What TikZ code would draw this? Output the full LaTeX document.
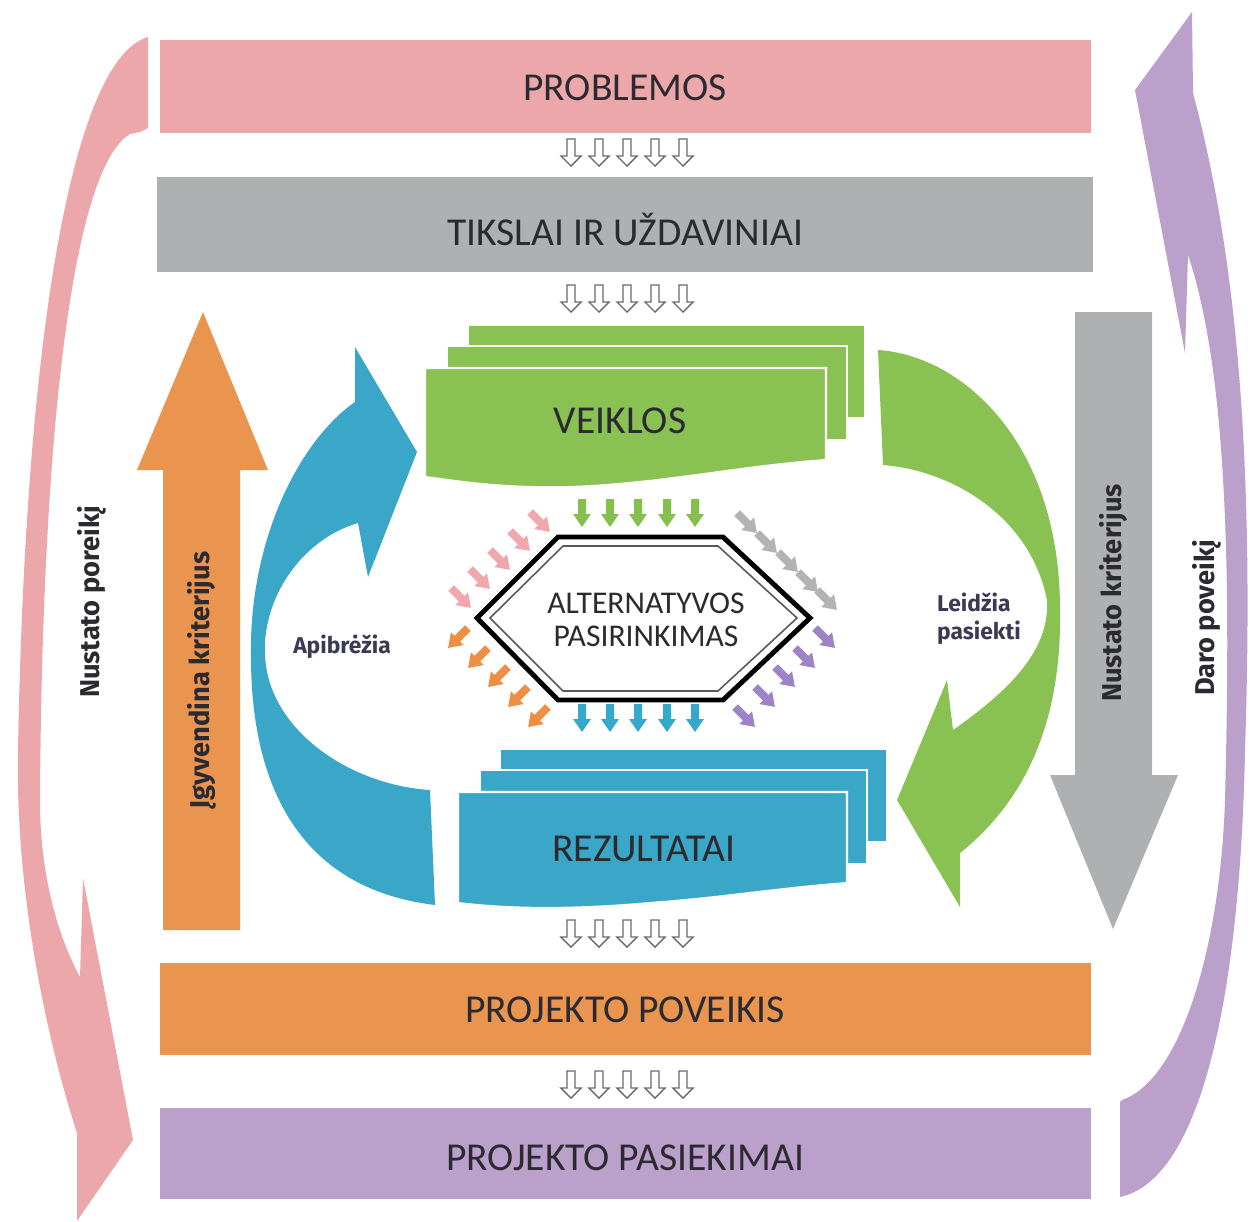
\documentclass[tikz,border=0pt]{standalone}
\usepackage{fontspec}
\setmainfont{Carlito}
\newfontfamily\labfont{Fira Sans}
\definecolor{pinkc}{HTML}{ECA7AA}
\definecolor{grayc}{HTML}{AEB0B2}
\definecolor{orangec}{HTML}{E9954F}
\definecolor{purplec}{HTML}{BAA0CB}
\definecolor{greenc}{HTML}{8AC153}
\definecolor{bluec}{HTML}{3AA7C9}
\definecolor{txt}{HTML}{2A2A30}
\definecolor{navy}{HTML}{3A3A55}
\definecolor{hollc}{HTML}{6A6A6A}
\definecolor{spink}{HTML}{F0A8AC}
\definecolor{sgray}{HTML}{B3B3B3}
\definecolor{sorange}{HTML}{EE8F45}
\definecolor{spurple}{HTML}{9E84C6}
\definecolor{sgreen}{HTML}{86C04C}
\definecolor{sblue}{HTML}{35A8CE}
\tikzset{
  bartext/.style={font=\fontsize{22.5}{26}\selectfont, text=txt, inner sep=0pt},
  sidelab/.style={font=\labfont\bfseries\fontsize{15.5}{18}\selectfont, text=txt, rotate=90, inner sep=0pt},
  arclab/.style={font=\labfont\bfseries\fontsize{13}{16}\selectfont, text=navy, inner sep=0pt},
  holarr/.pic={\draw[hollc, line width=0.8pt, fill=white, line join=miter]
     (-4,0) -- (-4,17) -- (-10,17) -- (0,27) -- (10,17) -- (4,17) -- (4,0) -- cycle;},
  sarr/.pic={\fill (-4,-14) -- (4,-14) -- (4,1) -- (9,1) -- (0,14) -- (-9,1) -- (-4,1) -- cycle;},
  layer/.style={draw=white, line width=1.2pt}
}
\begin{document}
\begin{tikzpicture}[x=0.02cm,y=-0.02cm]
\fill[white] (0,0) rectangle (1250,1221);
\useasboundingbox (0,0) rectangle (1250,1221);

% --- side arcs
\fill[pinkc] (148,37) -- (148,128) -- (140,132) -- (130,134)
  .. controls (70,170) and (42,450) .. (40,800)
  .. controls (40,880) and (60,940) .. (80,977)
  -- (83,878) -- (133,1140) -- (77,1221) -- (77,1133)
  .. controls (50,1050) and (15,900) .. (18,750)
  .. controls (25,350) and (70,60) .. (148,37) -- cycle;
\fill[purplec] (1192,12) -- (1193,93)
  .. controls (1235,250) and (1255,450) .. (1245,750)
  .. controls (1240,1000) and (1200,1180) .. (1120,1197)
  -- (1120,1102) -- (1122,1100)
  .. controls (1180,1080) and (1220,950) .. (1225,800)
  .. controls (1230,600) and (1230,380) .. (1188,255)
  -- (1185,353) -- (1135,90) -- cycle;

% --- bars
\fill[pinkc] (160,40) rectangle (1091,133);
\node[bartext] (problemos) at (625,88) {PROBLEMOS};
\fill[grayc] (157,177) rectangle (1093,272);
\node[bartext] (tikslai) at (625,229) {TIKSLAI IR UŽDAVINIAI};
\fill[orangec] (160,963) rectangle (1091,1055);
\node[bartext] (poveikis) at (625,1010) {PROJEKTO POVEIKIS};
\fill[purplec] (160,1108) rectangle (1091,1199);
\node[bartext] (pasiekimai) at (625,1158) {PROJEKTO PASIEKIMAI};

% --- hollow arrows
\foreach \y in {139,285,920,1071}
  \foreach \x in {571,599,627,655,683}
    \pic at (\x,\y) {holarr};

% --- vertical arrows
\fill[orangec] (163,930) -- (163,470) -- (137,470) -- (203,312) -- (268,470) -- (240,470) -- (240,930) -- cycle;
\node[sidelab] (igyv) at (202,680) {Įgyvendina kriterijus};
\fill[grayc] (1075,312) -- (1075,775) -- (1050,775) -- (1113,929) -- (1178,775) -- (1152,775) -- (1152,312) -- cycle;
\node[sidelab] (nustk) at (1113,593) {Nustato kriterijus};
\node[sidelab] (nustp) at (92,602) {Nustato poreikį};
\node[sidelab] (daro) at (1207,618) {Daro poveikį};

% --- veiklos stack
\fill[greenc, layer] (468,325) rectangle (865,418);
\fill[greenc, layer] (447,346) rectangle (847,440);
\fill[greenc, layer] (425,368) -- (826,368) -- (826,460)
  .. controls (740,466) and (660,484) .. (570,487)
  .. controls (500,489) and (450,480) .. (425,477) -- cycle;
\node[bartext] (veiklos) at (620,421) {VEIKLOS};

% --- rezultatai stack
\fill[bluec, layer] (500,749) rectangle (887,842);
\fill[bluec, layer] (480,770) rectangle (867,864);
\fill[bluec, layer] (458,792) -- (847,792) -- (847,883)
  .. controls (780,888) and (720,898) .. (650,903)
  .. controls (560,911) and (500,908) .. (458,903) -- cycle;
\node[bartext] (rezultatai) at (644,849) {REZULTATAI};

% --- curved arrows
\fill[bluec] (435,905) .. controls (310,890) and (252,800) .. (251,660)
  .. controls (248,540) and (300,440) .. (355,402)
  -- (355,347) -- (417,452) -- (368,577) -- (358,523)
  .. controls (300,540) and (262,600) .. (265,655)
  .. controls (268,730) and (350,785) .. (430,790) -- cycle;
\node[arclab] (apib) at (342,647) {Apibrėžia};
\fill[greenc] (878,350) .. controls (960,355) and (1060,440) .. (1060,610)
  .. controls (1062,730) and (1020,805) .. (960,853)
  -- (960,907) -- (897,800) -- (947,680) -- (953,730)
  .. controls (1010,690) and (1050,650) .. (1047,600)
  .. controls (1030,515) and (950,470) .. (883,465) -- cycle;
\node[arclab, align=left] (leid) at (979,619) {Leidžia\\pasiekti};

% --- hexagon
\draw[line width=2.8pt, fill=white, line join=miter] (477,618) -- (558,537) -- (723,537) -- (810,618) -- (723,700) -- (558,700) -- cycle;
\draw[line width=0.9pt, gray!70!black] (490,618) -- (563,546) -- (718,546) -- (797,618) -- (718,691) -- (563,691) -- cycle;
\node[font=\fontsize{18}{19}\selectfont, text=txt, align=center, inner sep=0pt] (alt) at (646,620) {ALTERNATYVOS\\PASIRINKIMAS};

% --- small arrows
\foreach \x in {582,610,638,667,695} {
  \pic[sgreen] at (\x,513) {sarr};
  \pic[sblue] at (\x,718) {sarr};
}
\foreach \x/\y in {540/522,520/541,500/560,480/579,461/598}
  \pic[spink, rotate=45] at (\x,\y) {sarr};
\foreach \x/\y in {747/523,767/543,788/562,808/582,827/600}
  \pic[sgray, rotate=45] at (\x,\y) {sarr};
\foreach \x/\y in {458/638,478/658,498/677,518/697,538/717}
  \pic[sorange, rotate=-45] at (\x,\y) {sarr};
\foreach \x/\y in {825/638,805/658,785/677,765/697,745/717}
  \pic[spurple, rotate=45] at (\x,\y) {sarr};
\end{tikzpicture}
\end{document}
